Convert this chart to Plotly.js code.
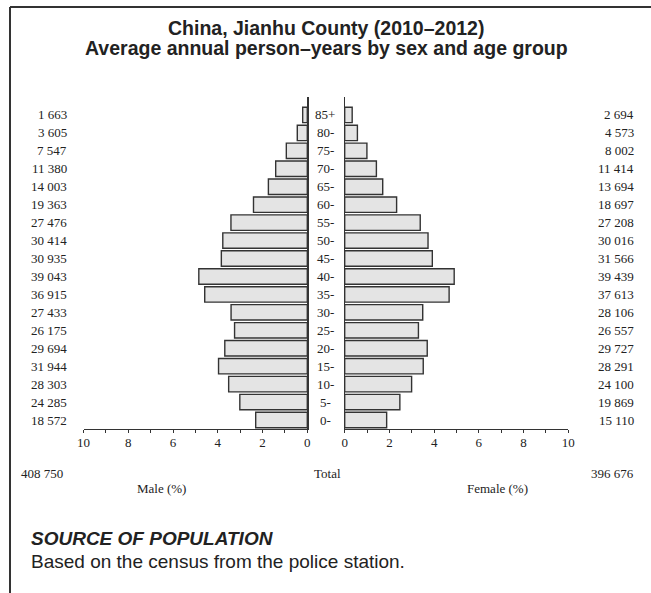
<!DOCTYPE html>
<html>
<head>
<meta charset="utf-8">
<script src="https://cdn.plot.ly/plotly-3.0.1.min.js"></script>
<style>
html,body{margin:0;padding:0;background:#fff;}
#chart{width:651px;height:593px;}
</style>
</head>
<body>
<div id="chart"></div>
<script>
// Age groups (bottom to top)
const ageGroups = ["0-","5-","10-","15-","20-","25-","30-","35-","40-","45-","50-","55-","60-","65-","70-","75-","80-","85+"];
// Average annual person-years
const maleCounts   = [18572,24285,28303,31944,29694,26175,27433,36915,39043,30935,30414,27476,19363,14003,11380,7547,3605,1663];
const femaleCounts = [15110,19869,24100,28291,29727,26557,28106,37613,39439,31566,30016,27208,18697,13694,11414,8002,4573,2694];
const maleTotalLabel = "408 750";
const femaleTotalLabel = "396 676";
const xTickVals = [0,2,4,6,8,10];

const W = 651, H = 593;
const px = v => v / W;
const py = v => 1 - v / H;

const sum = a => a.reduce((s, v) => s + v, 0);
const grand = sum(maleCounts) + sum(femaleCounts);
const malePct = maleCounts.map(v => v / grand * 100);
const femalePct = femaleCounts.map(v => v / grand * 100);
const fmtSp = n => String(n).replace(/\B(?=(\d{3})+(?!\d))/g, " ");

const serif = "Liberation Serif, Times New Roman, serif";
const sans = "Liberation Sans, Arial, Helvetica, sans-serif";
const ink = "#222";

const barStyle = {color: "#e4e4e4", line: {color: "#333", width: 1.4}};

const traces = [
  {type: "bar", orientation: "h", x: malePct, y: ageGroups, xaxis: "x", yaxis: "y",
   marker: barStyle, hoverinfo: "skip", showlegend: false},
  {type: "bar", orientation: "h", x: femalePct, y: ageGroups, xaxis: "x2", yaxis: "y2",
   marker: barStyle, hoverinfo: "skip", showlegend: false}
];

const xCommon = {
  tickvals: xTickVals, ticktext: xTickVals.map(String),
  ticks: "outside", ticklen: 3, tickcolor: "#333", tickwidth: 1,
  minor: {dtick: 1, ticks: "outside", ticklen: 3, tickcolor: "#333", tickwidth: 1, showgrid: false},
  showline: true, linecolor: "#333", linewidth: 1.2,
  showgrid: false, zeroline: false, fixedrange: true,
  ticklabelstandoff: -2,
  tickfont: {family: serif, size: 13, color: ink}
};
const yCommon = {
  type: "category", categoryorder: "array", categoryarray: ageGroups,
  range: [-0.5, 18], domain: [py(429), py(97)],
  showline: true, linecolor: "#333", linewidth: 1.2,
  showticklabels: false, ticks: "", showgrid: false, zeroline: false, fixedrange: true
};

const annotations = [];
// Title
annotations.push({xref: "paper", yref: "paper", x: px(326), y: py(28), xanchor: "center", yanchor: "middle",
  text: "<b>China, Jianhu County (2010\u20132012)</b>", showarrow: false,
  font: {family: sans, size: 19.5, color: ink}});
annotations.push({xref: "paper", yref: "paper", x: px(326), y: py(48), xanchor: "center", yanchor: "middle",
  text: "<b>Average annual person\u2013years by sex and age group</b>", showarrow: false,
  font: {family: sans, size: 19.5, color: ink}});
// Age labels and counts
ageGroups.forEach((g, i) => {
  annotations.push({xref: "paper", yref: "y", x: px(325), y: g, xanchor: "center", yanchor: "middle",
    text: g, showarrow: false, font: {family: serif, size: 13, color: ink}});
  annotations.push({xref: "paper", yref: "y", x: px(69), y: g, xanchor: "right", yanchor: "middle",
    text: fmtSp(maleCounts[i]), showarrow: false, font: {family: serif, size: 13, color: ink}});
  annotations.push({xref: "paper", yref: "y2", x: px(636), y: g, xanchor: "right", yanchor: "middle",
    text: fmtSp(femaleCounts[i]), showarrow: false, font: {family: serif, size: 13, color: ink}});
});
// Totals row
annotations.push({xref: "paper", yref: "paper", x: px(19), y: py(473), xanchor: "left", yanchor: "middle",
  text: maleTotalLabel, showarrow: false, font: {family: serif, size: 13, color: ink}});
annotations.push({xref: "paper", yref: "paper", x: px(327), y: py(473), xanchor: "center", yanchor: "middle",
  text: "Total", showarrow: false, font: {family: serif, size: 13, color: ink}});
annotations.push({xref: "paper", yref: "paper", x: px(636), y: py(473), xanchor: "right", yanchor: "middle",
  text: femaleTotalLabel, showarrow: false, font: {family: serif, size: 13, color: ink}});
annotations.push({xref: "paper", yref: "paper", x: px(161), y: py(488), xanchor: "center", yanchor: "middle",
  text: "Male (%)", showarrow: false, font: {family: serif, size: 13, color: ink}});
annotations.push({xref: "paper", yref: "paper", x: px(497), y: py(488), xanchor: "center", yanchor: "middle",
  text: "Female (%)", showarrow: false, font: {family: serif, size: 13, color: ink}});
// Source
annotations.push({xref: "paper", yref: "paper", x: px(29), y: py(538), xanchor: "left", yanchor: "middle",
  text: "<b><i>SOURCE OF POPULATION</i></b>", showarrow: false, font: {family: sans, size: 19, color: ink}});
annotations.push({xref: "paper", yref: "paper", x: px(29), y: py(561), xanchor: "left", yanchor: "middle",
  text: "Based on the census from the police station.", showarrow: false, font: {family: sans, size: 19, color: ink}});

const layout = {
  width: W, height: H,
  margin: {l: 0, r: 0, t: 0, b: 0, pad: 0},
  paper_bgcolor: "#fff", plot_bgcolor: "rgba(0,0,0,0)",
  bargap: 0.14,
  xaxis: Object.assign({}, xCommon, {domain: [px(83.5), px(307.3)], range: [10, 0], anchor: "y"}),
  xaxis2: Object.assign({}, xCommon, {domain: [px(344.7), px(568.3)], range: [0, 10], anchor: "y2"}),
  yaxis: Object.assign({}, yCommon, {anchor: "x", side: "right"}),
  yaxis2: Object.assign({}, yCommon, {anchor: "x2", side: "left"}),
  annotations: annotations,
  shapes: [
    {type: "line", xref: "paper", yref: "paper", x0: px(10), x1: 1, y0: py(7), y1: py(7), line: {color: "#333", width: 2}},
    {type: "line", xref: "paper", yref: "paper", x0: px(10), x1: px(10), y0: py(7), y1: 0, line: {color: "#333", width: 2}}
  ]
};

Plotly.newPlot("chart", traces, layout, {displayModeBar: false, staticPlot: true});
</script>
</body>
</html>
